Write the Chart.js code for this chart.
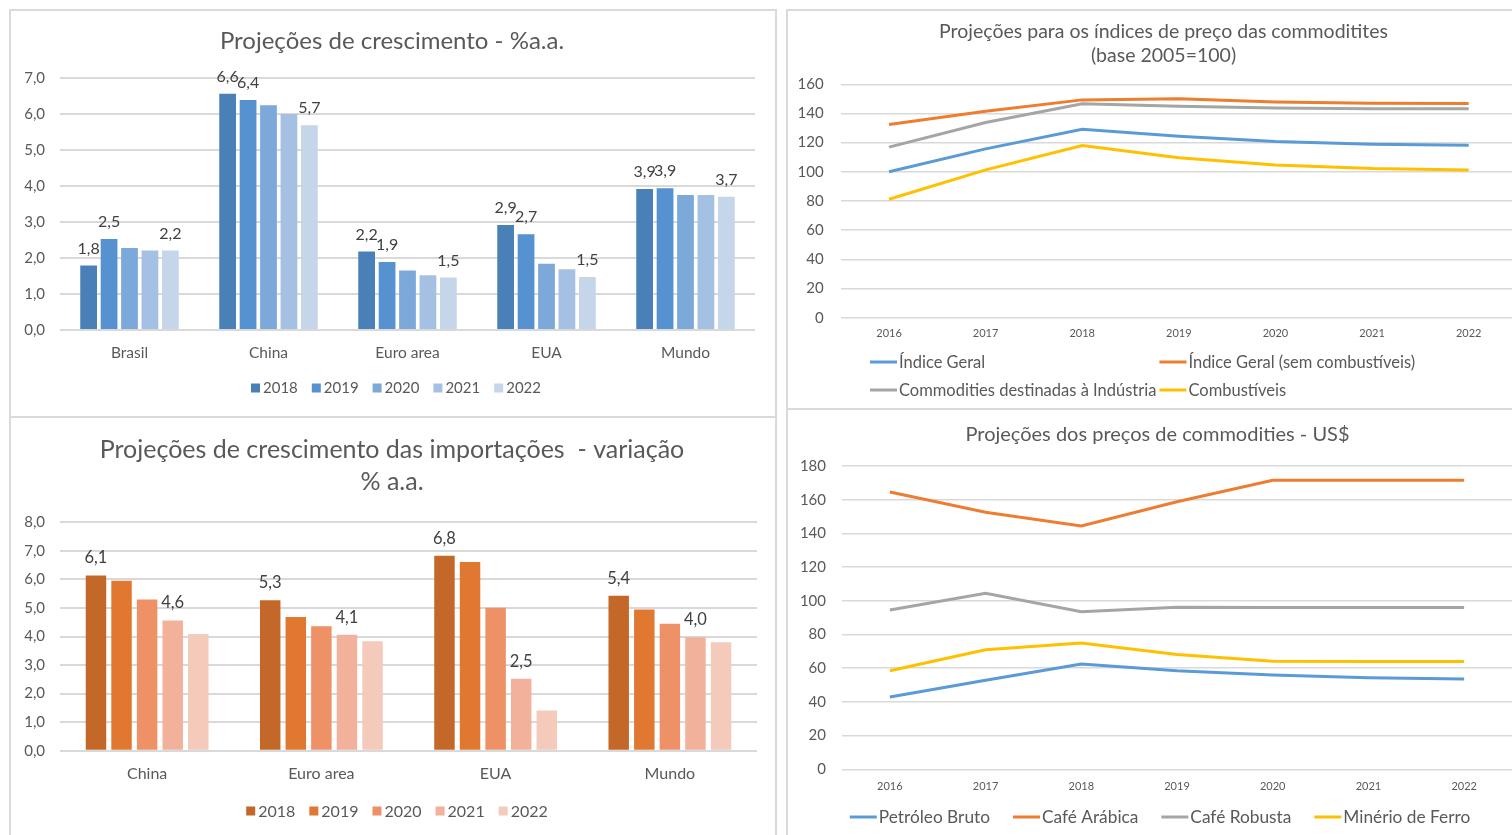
<!DOCTYPE html>
<html>
<head>
<meta charset="utf-8">
<script src="https://cdn.jsdelivr.net/npm/chart.js@4.4.1/dist/chart.umd.min.js"></script>
<style>
  html, body { margin:0; padding:0; background:#ffffff; width:1512px; height:835px; overflow:hidden; }
  #wrap { position:relative; width:1512px; height:835px; overflow:hidden; }
  .panel { position:absolute; border:2px solid #dadada; box-sizing:border-box; background:#fff; }
  canvas { position:absolute; }
</style>
</head>
<body>
<div id="wrap">
  <div class="panel" style="left:9px;top:9px;width:768px;height:410px;"></div>
  <div class="panel" style="left:9px;top:416px;width:768px;height:430px;"></div>
  <div class="panel" style="left:786px;top:9px;width:760px;height:401px;"></div>
  <div class="panel" style="left:786px;top:408px;width:760px;height:440px;"></div>
  <canvas id="c1" width="764" height="406" style="left:10px;top:10px;"></canvas>
  <canvas id="c2" width="764" height="417" style="left:10px;top:418px;"></canvas>
  <canvas id="c3" width="753" height="398" style="left:787px;top:10px;"></canvas>
  <canvas id="c4" width="741" height="425" style="left:787px;top:410px;"></canvas>
</div>
<script>
// ---------- DATA ----------
const years = ['2018', '2019', '2020', '2021', '2022'];

// Projeções de crescimento - %a.a.
const growthCategories = ['Brasil', 'China', 'Euro area', 'EUA', 'Mundo'];
const growth2018 = [1.79, 6.56, 2.18, 2.92, 3.92];
const growth2019 = [2.53, 6.39, 1.89, 2.66, 3.94];
const growth2020 = [2.28, 6.24, 1.65, 1.84, 3.75];
const growth2021 = [2.21, 6.00, 1.52, 1.69, 3.75];
const growth2022 = [2.21, 5.69, 1.46, 1.47, 3.70];
const growthLabelled = ['2018', '2019', '2022'];

// Projeções de crescimento das importações - variação % a.a.
const importCategories = ['China', 'Euro area', 'EUA', 'Mundo'];
const imports2018 = [6.14, 5.27, 6.83, 5.43];
const imports2019 = [5.95, 4.68, 6.61, 4.95];
const imports2020 = [5.30, 4.36, 5.01, 4.45];
const imports2021 = [4.56, 4.06, 2.52, 3.97];
const imports2022 = [4.09, 3.83, 1.41, 3.80];
const importsLabelled = ['2018', '2021'];

// Índices de preço das commodities (base 2005=100)
const lineYears = ['2016', '2017', '2018', '2019', '2020', '2021', '2022'];
const idxGeral        = [100.0, 115.7, 129.2, 124.4, 120.7, 118.9, 118.2];
const idxSemComb      = [132.4, 141.5, 149.3, 150.0, 147.9, 147.0, 146.8];
const idxIndustria    = [116.9, 133.8, 146.6, 145.0, 143.8, 143.3, 143.3];
const idxCombustiveis = [81.2, 101.3, 118.0, 109.7, 104.7, 102.2, 101.3];

// Preços de commodities - US$
const precoPetroleo = [42.9, 52.8, 62.5, 58.5, 56.0, 54.4, 53.6];
const precoArabica  = [164.6, 152.5, 144.4, 158.8, 171.5, 171.5, 171.5];
const precoRobusta  = [94.5, 104.4, 93.5, 96.1, 96.0, 96.0, 96.0];
const precoMinerio  = [58.5, 71.0, 75.0, 68.2, 64.1, 64.0, 64.0];

// ---------- STYLE ----------
const FONT = 'Lato, "Open Sans", sans-serif';
const TXT = '#595959';
const GRID = '#d9d9d9';
const blues = ['#4a80b8', '#5592cf', '#7ca8da', '#a4c0e3', '#c5d6eb'];
const oranges = ['#c4682a', '#e07832', '#ee9166', '#f1b19b', '#f4cabb'];

// ---------- PLUGINS ----------
const valueLabels = {
  id: 'valueLabels',
  afterDatasetsDraw(chart, args, o) {
    if (!o || !o.display) return;
    const ctx = chart.ctx;
    ctx.save();
    ctx.font = o.size + 'px ' + FONT;
    ctx.fillStyle = o.color;
    ctx.textAlign = 'center';
    ctx.textBaseline = 'middle';
    chart.data.datasets.forEach((ds, i) => {
      if (!ds.showValues) return;
      chart.getDatasetMeta(i).data.forEach((bar, j) => {
        const v = Math.round(ds.data[j] * 10) / 10;
        ctx.fillText(v.toFixed(1).replace('.', ','), bar.x, bar.y - o.offset);
      });
    });
    ctx.restore();
  }
};

const customLegend = {
  id: 'customLegend',
  afterDraw(chart, args, o) {
    if (!o || !o.display) return;
    const ctx = chart.ctx;
    ctx.save();
    ctx.font = o.size + 'px ' + FONT;
    ctx.textBaseline = 'middle';
    ctx.textAlign = 'left';
    const markW = o.type === 'box' ? o.box : o.lineLen;
    const items = chart.data.datasets.map(ds => {
      const w = markW + o.markGap + ctx.measureText(ds.label).width;
      return { text: ds.label, color: o.type === 'box' ? ds.backgroundColor : ds.borderColor, w };
    });
    const pos = [];
    if (o.columns) {
      const colW = Math.max(...items.map(i => i.w)) + o.gap;
      items.forEach((it, k) => {
        pos.push({ x: o.startX + (k % o.columns) * colW, y: o.y + Math.floor(k / o.columns) * o.rowH });
      });
    } else {
      const total = items.reduce((s, i) => s + i.w, 0) + o.gap * (items.length - 1);
      let x = o.cx - total / 2;
      items.forEach(it => { pos.push({ x, y: o.y }); x += it.w + o.gap; });
    }
    items.forEach((it, k) => {
      const p = pos[k];
      if (o.type === 'box') {
        ctx.fillStyle = it.color;
        ctx.fillRect(p.x, p.y - o.box / 2, o.box, o.box);
      } else {
        ctx.strokeStyle = it.color;
        ctx.lineWidth = o.lineWidth;
        ctx.beginPath();
        ctx.moveTo(p.x, p.y);
        ctx.lineTo(p.x + o.lineLen, p.y);
        ctx.stroke();
      }
      ctx.fillStyle = TXT;
      ctx.fillText(it.text, p.x + markW + o.markGap, p.y + 0.5);
    });
    ctx.restore();
  }
};

Chart.register(valueLabels, customLegend);
Chart.defaults.font.family = FONT;
Chart.defaults.color = TXT;

function commaFixed(v) { return Number(v).toFixed(1).replace('.', ','); }

// empty right-hand spacer axis so the title stays centred on the whole canvas
function spacerAxis(w) {
  return {
    type: 'linear', position: 'right', display: true,
    grid: { display: false }, border: { display: false }, ticks: { display: false },
    afterFit: s => { s.width = w; }
  };
}

// ---------- BAR CHARTS ----------
function barChart(id, cfg) {
  const datasets = cfg.series.map((data, i) => ({
    label: years[i],
    data,
    backgroundColor: cfg.colors[i],
    borderWidth: 0,
    categoryPercentage: cfg.catPct,
    barPercentage: cfg.barPct,
    showValues: cfg.labelled.includes(years[i])
  }));
  return new Chart(document.getElementById(id), {
    type: 'bar',
    data: { labels: cfg.categories, datasets },
    options: {
      responsive: false,
      animation: false,
      devicePixelRatio: 1,
      layout: { padding: cfg.padding },
      plugins: {
        legend: { display: false },
        tooltip: { enabled: false },
        title: {
          display: true,
          text: cfg.title,
          color: TXT,
          font: { size: cfg.titleSize, weight: 'normal', lineHeight: cfg.titleLH },
          padding: cfg.titlePad
        },
        valueLabels: { display: true, size: cfg.labelSize, color: '#404040', offset: cfg.labelOffset },
        customLegend: { display: true, type: 'box', box: 9, markGap: 3, gap: cfg.legendGap, size: cfg.legendSize, y: cfg.legendY, cx: cfg.legendCx }
      },
      scales: {
        x: {
          grid: { display: false },
          border: { display: false },
          ticks: { color: TXT, font: { size: cfg.xSize }, padding: cfg.xPad },
          afterFit: s => { s.height = cfg.xH; }
        },
        y: {
          min: 0, max: cfg.yMax,
          grid: { color: GRID, lineWidth: 2, drawTicks: false },
          border: { display: false },
          ticks: { stepSize: 1, color: TXT, font: { size: cfg.ySize }, padding: cfg.yPad, callback: v => commaFixed(v) },
          afterFit: s => { s.width = cfg.yW; }
        },
        spacer: spacerAxis(cfg.rightW)
      }
    }
  });
}

barChart('c1', {
  title: 'Projeções de crescimento - %a.a.',
  titleSize: 24, titleLH: 1.2, titlePad: { top: 16.6, bottom: 22.6 },
  categories: growthCategories,
  series: [growth2018, growth2019, growth2020, growth2021, growth2022],
  colors: blues, labelled: growthLabelled,
  catPct: 0.735, barPct: 0.82,
  padding: { left: 0, right: 0, top: 0, bottom: 46 },
  yMax: 7, yW: 50, yPad: 15, ySize: 15, rightW: 19,
  xH: 40, xPad: 6, xSize: 15.5,
  labelSize: 16, labelOffset: 17,
  legendY: 378, legendCx: 386, legendSize: 15, legendGap: 14
});

barChart('c2', {
  title: ['Projeções de crescimento das importações  - variação', '% a.a.'],
  titleSize: 25, titleLH: 1.28, titlePad: { top: 16, bottom: 24.3 },
  categories: importCategories,
  series: [imports2018, imports2019, imports2020, imports2021, imports2022],
  colors: oranges, labelled: importsLabelled,
  catPct: 0.734, barPct: 0.8,
  padding: { left: 0, right: 0, top: 0, bottom: 44.3 },
  yMax: 8, yW: 50, yPad: 15, ySize: 15, rightW: 17,
  xH: 40, xPad: 6, xSize: 16,
  labelSize: 16.5, labelOffset: 17.5,
  legendY: 393, legendCx: 387, legendSize: 16, legendGap: 14
});

// ---------- LINE CHARTS ----------
function lineChart(id, cfg) {
  const datasets = cfg.series.map((s) => ({
    label: s.label, data: s.data, borderColor: s.color, backgroundColor: s.color,
    borderWidth: 3, pointRadius: 0, tension: 0, fill: false
  }));
  return new Chart(document.getElementById(id), {
    type: 'line',
    data: { labels: lineYears, datasets },
    options: {
      responsive: false,
      animation: false,
      devicePixelRatio: 1,
      layout: { padding: cfg.padding },
      plugins: {
        legend: { display: false },
        tooltip: { enabled: false },
        title: {
          display: true, text: cfg.title, color: TXT,
          font: { size: cfg.titleSize, weight: 'normal', lineHeight: cfg.titleLH },
          padding: cfg.titlePad
        },
        customLegend: Object.assign({ display: true, type: 'line', lineLen: 27, lineWidth: 3, markGap: 2, size: 16.5 }, cfg.legend)
      },
      scales: {
        x: {
          offset: true,
          grid: { display: false },
          border: { display: false },
          ticks: { color: TXT, font: { size: 11 }, padding: cfg.xPad },
          afterFit: s => { s.height = cfg.xH; }
        },
        y: {
          min: 0, max: cfg.yMax,
          grid: { color: GRID, lineWidth: 1.5, drawTicks: false },
          border: { display: false },
          ticks: { stepSize: 20, color: TXT, font: { size: 15 }, padding: cfg.yPad },
          afterFit: s => { s.width = cfg.yW; }
        },
        spacer: spacerAxis(cfg.rightW)
      }
    }
  });
}

lineChart('c3', {
  title: ['Projeções para os índices de preço das commoditites', '(base 2005=100)'],
  titleSize: 19.5, titleLH: 1.23, titlePad: { top: 10, bottom: 16.3 },
  series: [
    { label: 'Índice Geral', data: idxGeral, color: '#5b9bd5' },
    { label: 'Índice Geral (sem combustíveis)', data: idxSemComb, color: '#ed7d31' },
    { label: 'Commodities destinadas à Indústria', data: idxIndustria, color: '#a5a5a5' },
    { label: 'Combustíveis', data: idxCombustiveis, color: '#ffc000' }
  ],
  padding: { left: 0, right: 0, top: 0, bottom: 60.3 },
  yMax: 160, yW: 53.7, yPad: 17, rightW: 23,
  xH: 30, xPad: 1,
  legend: { columns: 2, startX: 83, y: 352, rowH: 28, gap: 3 }
});

lineChart('c4', {
  title: 'Projeções dos preços de commodities - US$',
  titleSize: 20, titleLH: 1.2, titlePad: { top: 13, bottom: 19 },
  series: [
    { label: 'Petróleo Bruto', data: precoPetroleo, color: '#5b9bd5' },
    { label: 'Café Arábica', data: precoArabica, color: '#ed7d31' },
    { label: 'Café Robusta', data: precoRobusta, color: '#a5a5a5' },
    { label: 'Minério de Ferro', data: precoMinerio, color: '#ffc000' }
  ],
  padding: { left: 0, right: 0, top: 0, bottom: 35.7 },
  yMax: 180, yW: 55, yPad: 16, rightW: 16,
  xH: 30, xPad: 3,
  legend: { cx: 373, y: 407, gap: 23, size: 17.3 }
});
</script>
</body>
</html>
